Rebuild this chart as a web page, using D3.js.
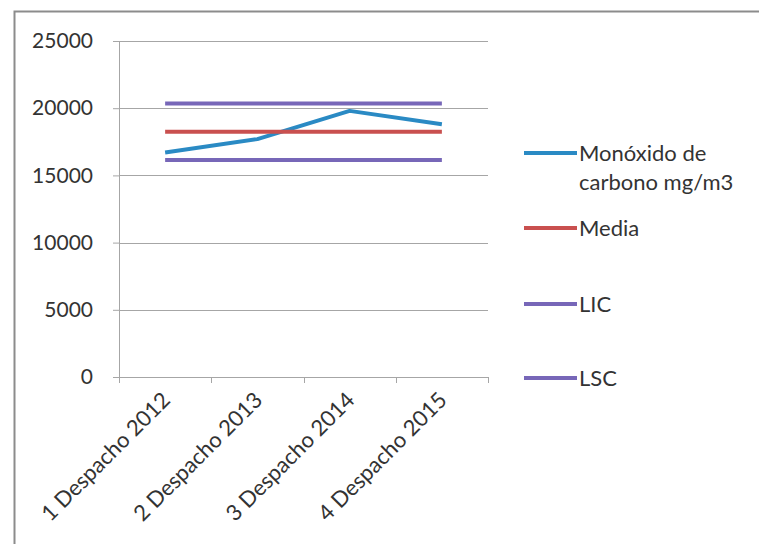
<!DOCTYPE html>
<html>
<head>
<meta charset="utf-8">
<script src="https://cdn.jsdelivr.net/npm/d3@7"></script>
<style>
  html, body { margin: 0; padding: 0; background: #fff; }
  svg { display: block; }
  text { font-family: Lato, "Open Sans", sans-serif; fill: #333; }
</style>
</head>
<body>
<svg id="chart" width="759" height="544"></svg>
<script>
// Categories and series
const categories = ["1 Despacho 2012", "2 Despacho 2013", "3 Despacho 2014", "4 Despacho 2015"];
const monoxido = [16700, 17700, 19800, 18800];
const media = [18250, 18250, 18250, 18250];
const lic = [16150, 16150, 16150, 16150];
const lsc = [20350, 20350, 20350, 20350];
const yTicks = [0, 5000, 10000, 15000, 20000, 25000];

const series = [
  { name: ["Monóxido de", "carbono mg/m3"], values: monoxido, color: "#2a8ac4", ly: 153 },
  { name: ["Media"], values: media, color: "#c9504f", ly: 228 },
  { name: ["LIC"], values: lic, color: "#7767b8", ly: 304 },
  { name: ["LSC"], values: lsc, color: "#7767b8", ly: 378 }
];

const svg = d3.select("#chart");

// Outer chart frame (runs off the right and bottom edges)
svg.append("rect")
  .attr("x", 14.5).attr("y", 11.5)
  .attr("width", 800).attr("height", 600)
  .attr("fill", "none").attr("stroke", "#8c8c8c").attr("stroke-width", 2);

const plot = { left: 119, right: 488, top: 41, bottom: 377 };

const x = d3.scaleBand().domain(categories).range([plot.left, plot.right]);
const y = d3.scaleLinear().domain([0, 25000]).range([plot.bottom, plot.top]);

// Y axis ticks and labels
const yAxis = svg.append("g")
  .attr("transform", `translate(${plot.left},0)`)
  .call(d3.axisLeft(y).tickValues(yTicks).tickSize(6).tickPadding(20)
        .tickFormat(d3.format("d")));
yAxis.select(".domain").remove();
yAxis.selectAll(".tick line").attr("stroke", "#a6a6a6");
yAxis.selectAll(".tick text").style("font-size", "21px").attr("fill", "#333");

// Horizontal gridlines
svg.append("g").selectAll("line.grid")
  .data(yTicks.filter(d => d > 0))
  .join("line")
  .attr("x1", plot.left).attr("x2", plot.right)
  .attr("y1", d => Math.round(y(d)) + 0.5).attr("y2", d => Math.round(y(d)) + 0.5)
  .attr("stroke", "#a6a6a6").attr("stroke-width", 1);

// Left vertical axis line
svg.append("line")
  .attr("x1", plot.left + 0.5).attr("x2", plot.left + 0.5)
  .attr("y1", plot.top).attr("y2", plot.bottom)
  .attr("stroke", "#a6a6a6");

// Category axis with boundary ticks
const xAxis = svg.append("g").attr("transform", `translate(0,${plot.bottom})`);
xAxis.append("line")
  .attr("x1", plot.left).attr("x2", plot.right)
  .attr("y1", 0.5).attr("y2", 0.5).attr("stroke", "#a6a6a6");
const bounds = categories.map(c => x(c)).concat([x(categories[categories.length - 1]) + x.bandwidth()]);
xAxis.selectAll("line.tk").data(bounds).join("line")
  .attr("x1", d => Math.round(d) + 0.5).attr("x2", d => Math.round(d) + 0.5)
  .attr("y1", 0).attr("y2", 6).attr("stroke", "#a6a6a6");
xAxis.selectAll("text").data(categories).join("text")
  .attr("transform", d => `translate(${x(d) + x.bandwidth() / 2 + 1},${19}) rotate(-45)`)
  .attr("text-anchor", "end")
  .attr("dy", "0.35em")
  .style("font-size", "22px")
  .text(d => d);

// Series lines
const line = d3.line()
  .x((d, i) => x(categories[i]) + x.bandwidth() / 2)
  .y(d => y(d));

svg.append("g").selectAll("path").data(series).join("path")
  .attr("d", d => line(d.values))
  .attr("fill", "none")
  .attr("stroke", d => d.color)
  .attr("stroke-width", 4)
  .attr("stroke-linejoin", "round");

// Legend
const legend = svg.append("g").selectAll("g").data(series).join("g")
  .attr("transform", d => `translate(0,${d.ly})`);
legend.append("line")
  .attr("x1", 524).attr("x2", 577).attr("y1", 0).attr("y2", 0)
  .attr("stroke", d => d.color).attr("stroke-width", 4);
legend.append("text")
  .attr("x", 579).attr("y", 0)
  .style("font-size", "22px")
  .selectAll("tspan").data(d => d.name).join("tspan")
  .attr("x", 579)
  .attr("dy", (d, i) => i === 0 ? "0.35em" : "1.35em")
  .text(d => d);
</script>
</body>
</html>
